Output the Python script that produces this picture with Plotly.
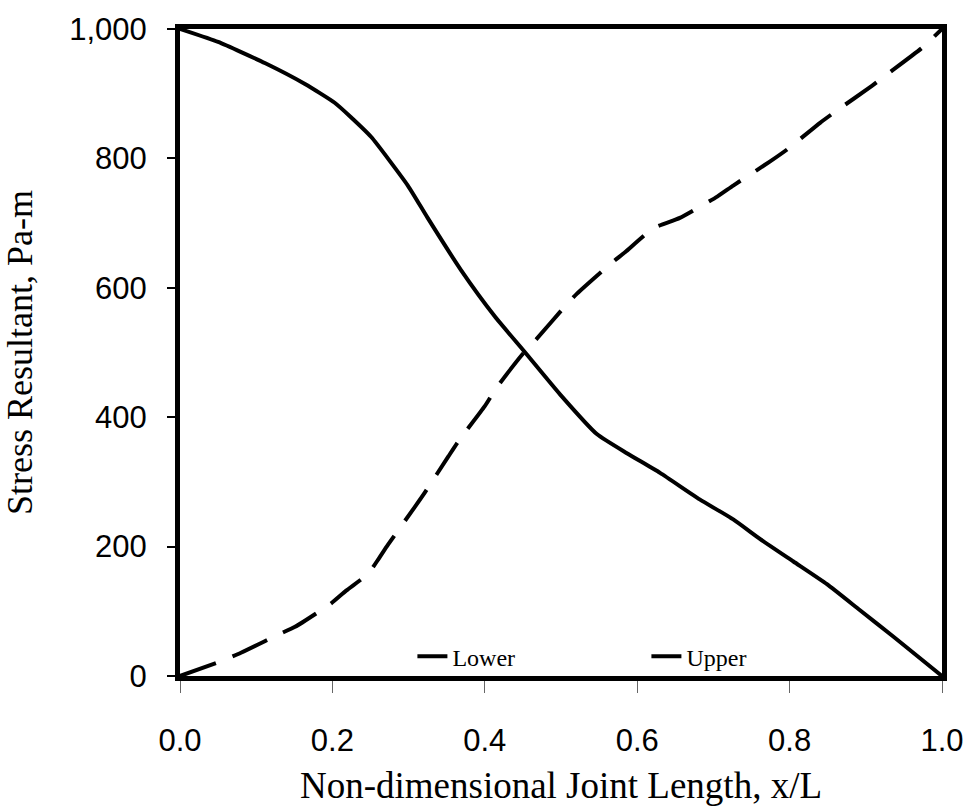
import plotly.graph_objects as go

# Non-dimensional position along the joint
x_lower = [0.0, 0.05, 0.112, 0.164, 0.203, 0.224, 0.251, 0.299, 0.325, 0.369, 0.413, 0.453,
           0.499, 0.547, 0.587, 0.630, 0.682, 0.726, 0.761, 0.805, 0.849, 0.892, 0.936, 1.0]
# Stress resultant in the lower adherend, Pa-m
lower = [1000, 980, 947, 915, 886, 864, 833, 758, 708, 627, 556, 500,
         435, 374, 344, 314, 273, 242, 212, 177, 142, 102, 61, 0]

x_upper = [0.0, 0.054, 0.08, 0.129, 0.151, 0.198, 0.218, 0.247, 0.260, 0.273, 0.308, 0.321,
           0.352, 0.366, 0.400, 0.415, 0.450, 0.468, 0.505, 0.521, 0.564, 0.584, 0.621, 0.656,
           0.705, 0.726, 0.774, 0.797, 0.840, 0.862, 0.908, 0.928, 0.974, 1.0]
# Stress resultant in the upper adherend, Pa-m
upper = [0, 23, 36, 64, 76, 112, 132, 158, 180, 203, 261, 283,
         339, 364, 417, 445, 498, 521, 571, 591, 636, 655, 692, 708,
         741, 758, 795, 814, 855, 874, 912, 930, 971, 1000]

x_ticks = [0.0, 0.2, 0.4, 0.6, 0.8, 1.0]
y_ticks = [0, 200, 400, 600, 800, 1000]

sans = "Liberation Sans, Arial, sans-serif"
serif = "Liberation Serif, Times New Roman, serif"

fig = go.Figure()
fig.add_trace(go.Scatter(
    x=x_lower, y=lower, mode="lines", name="Lower",
    line=dict(color="black", width=4, shape="spline", smoothing=0.5),
))
fig.add_trace(go.Scatter(
    x=x_upper, y=upper, mode="lines", name="Upper",
    line=dict(color="black", width=4, dash="38px,18px", shape="spline", smoothing=0.5),
))

fig.update_layout(
    width=976, height=812,
    margin=dict(l=180, r=34, t=27, b=125),
    paper_bgcolor="white", plot_bgcolor="white",
    showlegend=True,
    legend=dict(
        orientation="h", x=0.305, y=0.03, xanchor="left", yanchor="middle",
        font=dict(family=serif, size=24, color="black"),
        bgcolor="rgba(0,0,0,0)", entrywidth=189, entrywidthmode="pixels",
    ),
)
fig.update_xaxes(
    range=[0, 1], tickvals=x_ticks, tickformat=".1f",
    showgrid=False, zeroline=False,
    showline=True, linecolor="black", linewidth=5, mirror=True,
    ticks="outside", ticklen=12, tickwidth=1, tickcolor="#666",
    ticklabelstandoff=21,
    tickfont=dict(family=sans, size=31, color="black"),
    title=dict(text="Non-dimensional Joint Length, x/L",
               font=dict(family=serif, size=37, color="black"), standoff=16),
)
fig.update_yaxes(
    range=[0, 1000], tickvals=y_ticks, tickformat=",d",
    showgrid=False, zeroline=False,
    showline=True, linecolor="black", linewidth=5, mirror=True,
    ticks="outside", ticklen=8, tickwidth=1.5, tickcolor="black",
    ticklabelstandoff=14,
    tickfont=dict(family=sans, size=31, color="black"),
    title=dict(text="Stress Resultant, Pa-m",
               font=dict(family=serif, size=36, color="black"), standoff=30),
)

fig.write_html("out.html")
